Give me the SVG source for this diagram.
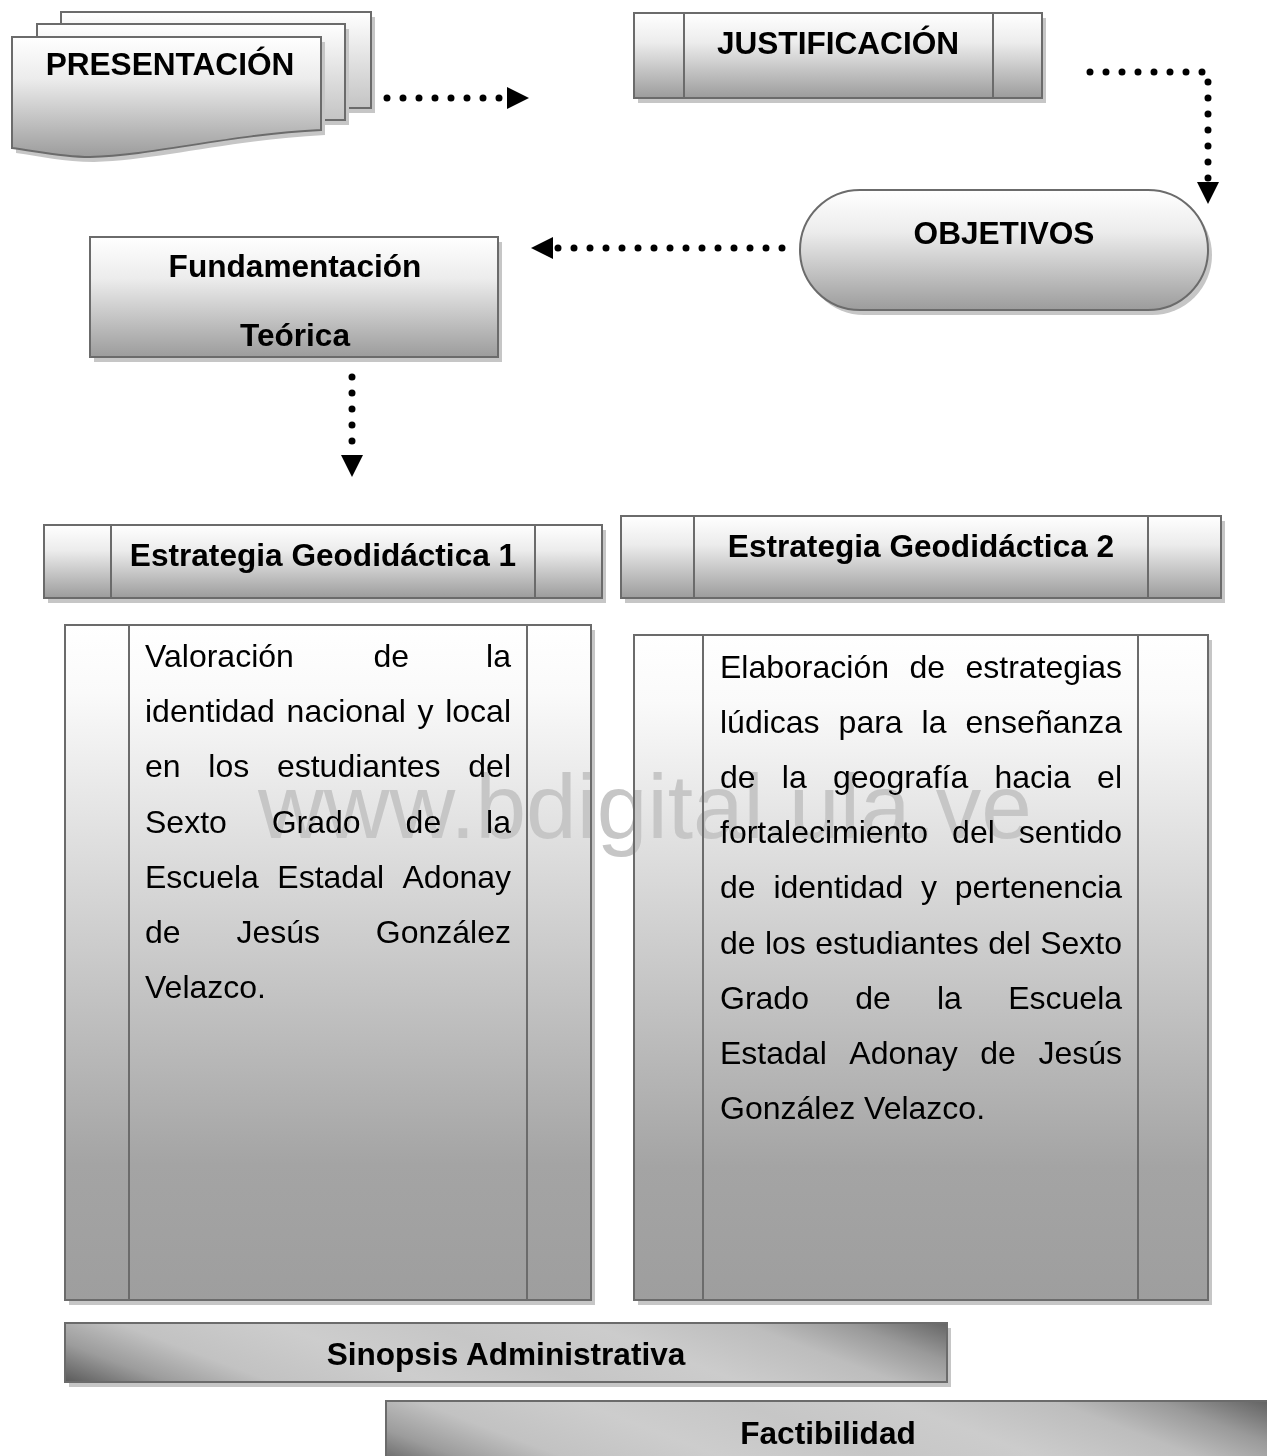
<svg xmlns="http://www.w3.org/2000/svg" width="1267" height="1456" viewBox="0 0 1267 1456">
<defs>
  <style>
    .bx{stroke:#6b6b6b;stroke-width:2}
    .ln{stroke:#6b6b6b;stroke-width:2;fill:none}
    .sh{fill:#c6c6c6}
    .hd{font-family:"Liberation Sans",Arial,sans-serif;font-weight:bold;font-size:31.6px;fill:#000;text-anchor:middle}
    .bd{font-family:"Liberation Sans",Arial,sans-serif;font-size:32px;fill:#000}
    .dot{fill:none;stroke:#000;stroke-width:7;stroke-linecap:round;stroke-dasharray:0 16}
    .wm{font-family:"Liberation Sans",Arial,sans-serif;font-size:91px;fill:#c6c6c6;mix-blend-mode:darken}
  </style>
  <linearGradient id="gHead" x1="0" y1="0" x2="0" y2="1">
    <stop offset="0" stop-color="#ffffff"/>
    <stop offset="0.35" stop-color="#ececec"/>
    <stop offset="1" stop-color="#9c9c9c"/>
  </linearGradient>
  <linearGradient id="gBack" x1="0" y1="0" x2="0" y2="1">
    <stop offset="0" stop-color="#ffffff"/>
    <stop offset="1" stop-color="#c4c4c4"/>
  </linearGradient>
  <linearGradient id="gBody" x1="0" y1="0" x2="0" y2="1">
    <stop offset="0" stop-color="#ffffff"/>
    <stop offset="0.1" stop-color="#fafafa"/>
    <stop offset="0.8" stop-color="#a4a4a4"/>
    <stop offset="1" stop-color="#9e9e9e"/>
  </linearGradient>
  <linearGradient id="gBar1" gradientUnits="userSpaceOnUse" x1="65" y1="1382" x2="196" y2="1037">
    <stop offset="0" stop-color="#5a5a5a"/>
    <stop offset="0.1" stop-color="#9c9c9c"/>
    <stop offset="0.2" stop-color="#c2c2c2"/>
    <stop offset="0.35" stop-color="#cdcdcd"/>
    <stop offset="0.5" stop-color="#c6c6c6"/>
    <stop offset="0.65" stop-color="#cccccc"/>
    <stop offset="0.8" stop-color="#bdbdbd"/>
    <stop offset="0.9" stop-color="#9a9a9a"/>
    <stop offset="1" stop-color="#646464"/>
  </linearGradient>
  <linearGradient id="gBar2" gradientUnits="userSpaceOnUse" x1="386" y1="1470" x2="521" y2="1117">
    <stop offset="0" stop-color="#5a5a5a"/>
    <stop offset="0.1" stop-color="#9c9c9c"/>
    <stop offset="0.2" stop-color="#c2c2c2"/>
    <stop offset="0.35" stop-color="#cdcdcd"/>
    <stop offset="0.5" stop-color="#c6c6c6"/>
    <stop offset="0.65" stop-color="#cccccc"/>
    <stop offset="0.8" stop-color="#bdbdbd"/>
    <stop offset="0.9" stop-color="#9a9a9a"/>
    <stop offset="1" stop-color="#646464"/>
  </linearGradient>
  <marker id="ah" markerUnits="userSpaceOnUse" markerWidth="22" markerHeight="22" refX="0" refY="11" orient="auto">
    <path d="M0,0 L22,11 L0,22 Z" fill="#000"/>
  </marker>
</defs>

<rect width="1267" height="1456" fill="#ffffff"/>

<g id="presentacion">
  <rect class="sh" x="65" y="17" width="310" height="96"/>
  <rect class="bx" x="61" y="12" width="310" height="96" fill="url(#gBack)"/>
  <rect class="sh" x="41" y="29" width="308" height="96"/>
  <rect class="bx" x="37" y="24" width="308" height="96" fill="url(#gBack)"/>
  <path class="sh" d="M16,42 H325 V135 C230,140 160,160 94,162 C64,162 40,156 16,153 Z"/>
  <path class="bx" d="M12,37 H321 V130 C226,135 156,155 90,157 C60,157 36,151 12,148 Z" fill="url(#gHead)"/>
  <text class="hd" x="170" y="75">PRESENTACIÓN</text>
</g>

<g id="justificacion">
  <rect class="sh" x="638" y="18" width="408" height="85"/>
  <rect class="bx" x="634" y="13" width="408" height="85" fill="url(#gHead)"/>
  <line class="ln" x1="684" y1="13" x2="684" y2="98"/>
  <line class="ln" x1="993" y1="13" x2="993" y2="98"/>
  <text class="hd" x="838" y="54">JUSTIFICACIÓN</text>
</g>

<g id="objetivos">
  <rect class="sh" x="804" y="195" width="408" height="120" rx="60" ry="60"/>
  <rect class="bx" x="800" y="190" width="408" height="120" rx="60" ry="60" fill="url(#gHead)"/>
  <text class="hd" x="1004" y="244">OBJETIVOS</text>
</g>

<g id="fundamentacion">
  <rect class="sh" x="94" y="242" width="408" height="120"/>
  <rect class="bx" x="90" y="237" width="408" height="120" fill="url(#gHead)"/>
  <text class="hd" x="295" y="277">Fundamentación</text>
  <text class="hd" x="295" y="346">Teórica</text>
</g>

<g id="estrategia1">
  <rect class="sh" x="48" y="530" width="558" height="73"/>
  <rect class="bx" x="44" y="525" width="558" height="73" fill="url(#gHead)"/>
  <line class="ln" x1="111" y1="525" x2="111" y2="598"/>
  <line class="ln" x1="535" y1="525" x2="535" y2="598"/>
  <text class="hd" x="323" y="566">Estrategia Geodidáctica 1</text>
</g>

<g id="estrategia2">
  <rect class="sh" x="625" y="521" width="600" height="82"/>
  <rect class="bx" x="621" y="516" width="600" height="82" fill="url(#gHead)"/>
  <line class="ln" x1="694" y1="516" x2="694" y2="598"/>
  <line class="ln" x1="1148" y1="516" x2="1148" y2="598"/>
  <text class="hd" x="921" y="557">Estrategia Geodidáctica 2</text>
</g>

<g id="texto1">
  <rect class="sh" x="69" y="630" width="526" height="675"/>
  <rect class="bx" x="65" y="625" width="526" height="675" fill="url(#gBody)"/>
  <line class="ln" x1="129" y1="625" x2="129" y2="1300"/>
  <line class="ln" x1="527" y1="625" x2="527" y2="1300"/>
  <text class="bd" y="667"><tspan x="145">Valoración</tspan> <tspan x="373.4">de</tspan> <tspan x="486.1">la</tspan></text>
  <text class="bd" y="722.2"><tspan x="145">identidad</tspan> <tspan x="286.6">nacional</tspan> <tspan x="417.5">y</tspan> <tspan x="445.2">local</tspan></text>
  <text class="bd" y="777.4"><tspan x="145">en</tspan> <tspan x="208.3">los</tspan> <tspan x="276.9">estudiantes</tspan> <tspan x="468.3">del</tspan></text>
  <text class="bd" y="832.6"><tspan x="145">Sexto</tspan> <tspan x="271.7">Grado</tspan> <tspan x="405.6">de</tspan> <tspan x="486.1">la</tspan></text>
  <text class="bd" y="887.8"><tspan x="145">Escuela</tspan> <tspan x="277.3">Estadal</tspan> <tspan x="402.5">Adonay</tspan></text>
  <text class="bd" y="943"><tspan x="145">de</tspan> <tspan x="236.4">Jesús</tspan> <tspan x="375.8">González</tspan></text>
  <text class="bd" x="145" y="998.2">Velazco.</text>
</g>

<g id="texto2">
  <rect class="sh" x="638" y="640" width="574" height="665"/>
  <rect class="bx" x="634" y="635" width="574" height="665" fill="url(#gBody)"/>
  <line class="ln" x1="703" y1="635" x2="703" y2="1300"/>
  <line class="ln" x1="1138" y1="635" x2="1138" y2="1300"/>
  <text class="bd" y="678"><tspan x="720">Elaboración</tspan> <tspan x="909.4">de</tspan> <tspan x="965.5">estrategias</tspan></text>
  <text class="bd" y="733.1"><tspan x="720">lúdicas</tspan> <tspan x="838.6">para</tspan> <tspan x="921.6">la</tspan> <tspan x="965.5">enseñanza</tspan></text>
  <text class="bd" y="788.2"><tspan x="720">de</tspan> <tspan x="781.8">la</tspan> <tspan x="833">geografía</tspan> <tspan x="994.4">hacia</tspan> <tspan x="1097.1">el</tspan></text>
  <text class="bd" y="843.3"><tspan x="720">fortalecimiento</tspan> <tspan x="952.1">del</tspan> <tspan x="1018.8">sentido</tspan></text>
  <text class="bd" y="898.4"><tspan x="720">de</tspan> <tspan x="773.4">identidad</tspan> <tspan x="921">y</tspan> <tspan x="954.8">pertenencia</tspan></text>
  <text class="bd" y="953.5"><tspan x="720">de</tspan> <tspan x="764.9">los</tspan> <tspan x="815.2">estudiantes</tspan> <tspan x="988.2">del</tspan> <tspan x="1040.2">Sexto</tspan></text>
  <text class="bd" y="1008.6"><tspan x="720">Grado</tspan> <tspan x="855.2">de</tspan> <tspan x="937">la</tspan> <tspan x="1008.2">Escuela</tspan></text>
  <text class="bd" y="1063.7"><tspan x="720">Estadal</tspan> <tspan x="849.3">Adonay</tspan> <tspan x="980.3">de</tspan> <tspan x="1038.4">Jesús</tspan></text>
  <text class="bd" x="720" y="1118.8">González Velazco.</text>
</g>

<g id="sinopsis">
  <rect class="sh" x="69" y="1328" width="882" height="59"/>
  <rect class="bx" x="65" y="1323" width="882" height="59" fill="url(#gBar1)"/>
  <text class="hd" x="506" y="1365">Sinopsis Administrativa</text>
</g>

<g id="factibilidad">
  <rect class="sh" x="390" y="1406" width="900" height="60"/>
  <rect class="bx" x="386" y="1401" width="900" height="70" fill="url(#gBar2)"/>
  <text class="hd" x="828" y="1444">Factibilidad</text>
</g>

<g id="connectors">
  <path class="dot" d="M387,98 H507" marker-end="url(#ah)"/>
  <path class="dot" d="M1090,72 H1208 V182" marker-end="url(#ah)"/>
  <path class="dot" d="M782,248 H553" marker-end="url(#ah)"/>
  <path class="dot" d="M352,377 V455" marker-end="url(#ah)"/>
</g>

<text class="wm" x="258" y="838">www.bdigital.ula.ve</text>
</svg>
